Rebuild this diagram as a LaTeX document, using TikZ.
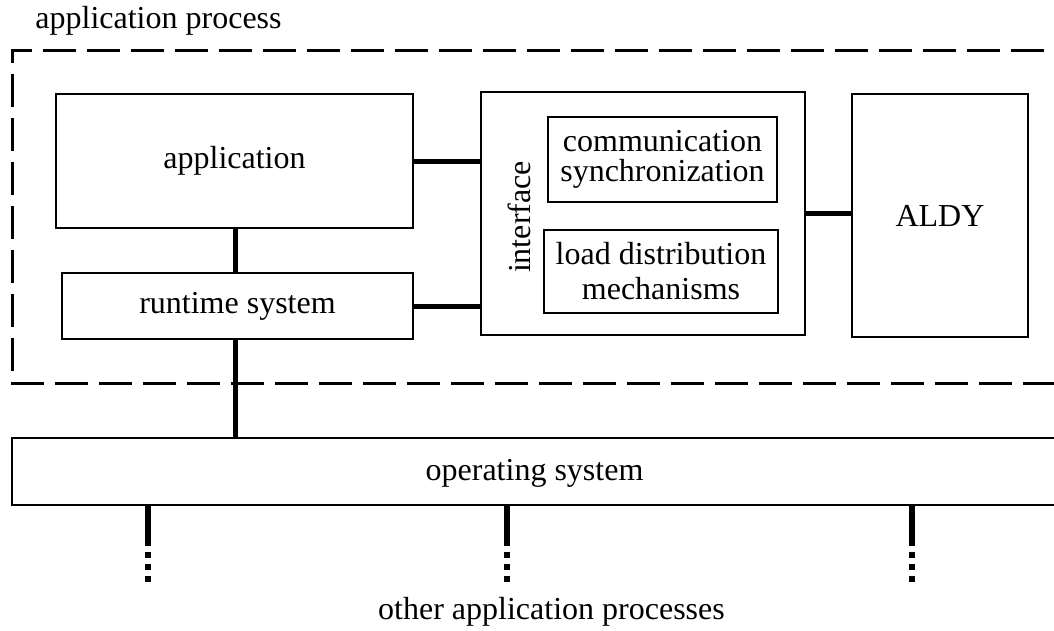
\documentclass[tikz,border=0pt]{standalone}
\usepackage{fontspec}
\setmainfont{Liberation Serif}
\begin{document}
\begin{tikzpicture}[x=1pt,y=-1pt,
  font=\fontsize{32}{36}\selectfont,
  box/.style={draw, line width=2.5pt, inner sep=0pt, align=center},
  link/.style={line width=5pt},
  drop/.style={line width=5.5pt, dash pattern=on 40pt off 6pt on 6pt off 6pt on 6pt off 6pt on 6pt off 200pt},
  frame/.style={line width=3pt, dash pattern=on 33pt off 11pt},
  txt/.style={inner sep=0pt, anchor=base}]
\useasboundingbox (0,0) rectangle (1054,630);
\clip (0,0) rectangle (1054,630);

% process boundary (open to the right)
\draw[frame] (12,63) -- (12,50) -- (1090,50);
\draw[frame, dash phase=33pt] (12,63) -- (12,383) -- (1090,383);
\node[txt] (proclabel) at (158.5,28) {application process};

% components of the application process
\node[box, minimum width=357pt, minimum height=134pt] (app) at (234.5,161) {application};
\node[box, minimum width=351pt, minimum height=66pt] (rt) at (237.5,306) {runtime system};
\node[box, minimum width=324pt, minimum height=243pt] (if) at (643,213.5) {};
\node[rotate=90, inner sep=0pt] (iflabel) at (519,217) {interface};
\node[box, minimum width=229pt, minimum height=85pt, font=\fontsize{32}{30.5}\selectfont] (comm) at (662.5,159.5) {communication\\synchronization};
\node[box, minimum width=234pt, minimum height=83pt, font=\fontsize{32}{35}\selectfont] (load) at (661,271.5) {load distribution\\mechanisms};
\node[box, minimum width=176pt, minimum height=243pt] (aldy) at (940,215.5) {ALDY};

% operating system (open to the right)
\node[box, minimum width=1068pt, minimum height=67pt] (os) at (546,471.5) {};
\node[txt] (oslabel) at (534.5,480) {operating system};

% connections
\draw[link] (app.south -| 235,0) -- (rt.north -| 235,0);
\draw[link] (app.east) -- (app.east -| if.west);
\draw[link] (rt.east) -- (rt.east -| if.west);
\draw[link] (if.east) -- (if.east -| aldy.west);
\draw[link] (rt.south -| 235,0) -- (os.north -| 235,0);

% links to the other processes
\coordinate (d1) at (148,583);
\coordinate (d2) at (507,583);
\coordinate (d3) at (912,583);
\draw[drop] (os.south -| d1) -- (d1);
\draw[drop] (os.south -| d2) -- (d2);
\draw[drop] (os.south -| d3) -- (d3);
\node[txt] (others) at (551.5,619) {other application processes};
\end{tikzpicture}
\end{document}
